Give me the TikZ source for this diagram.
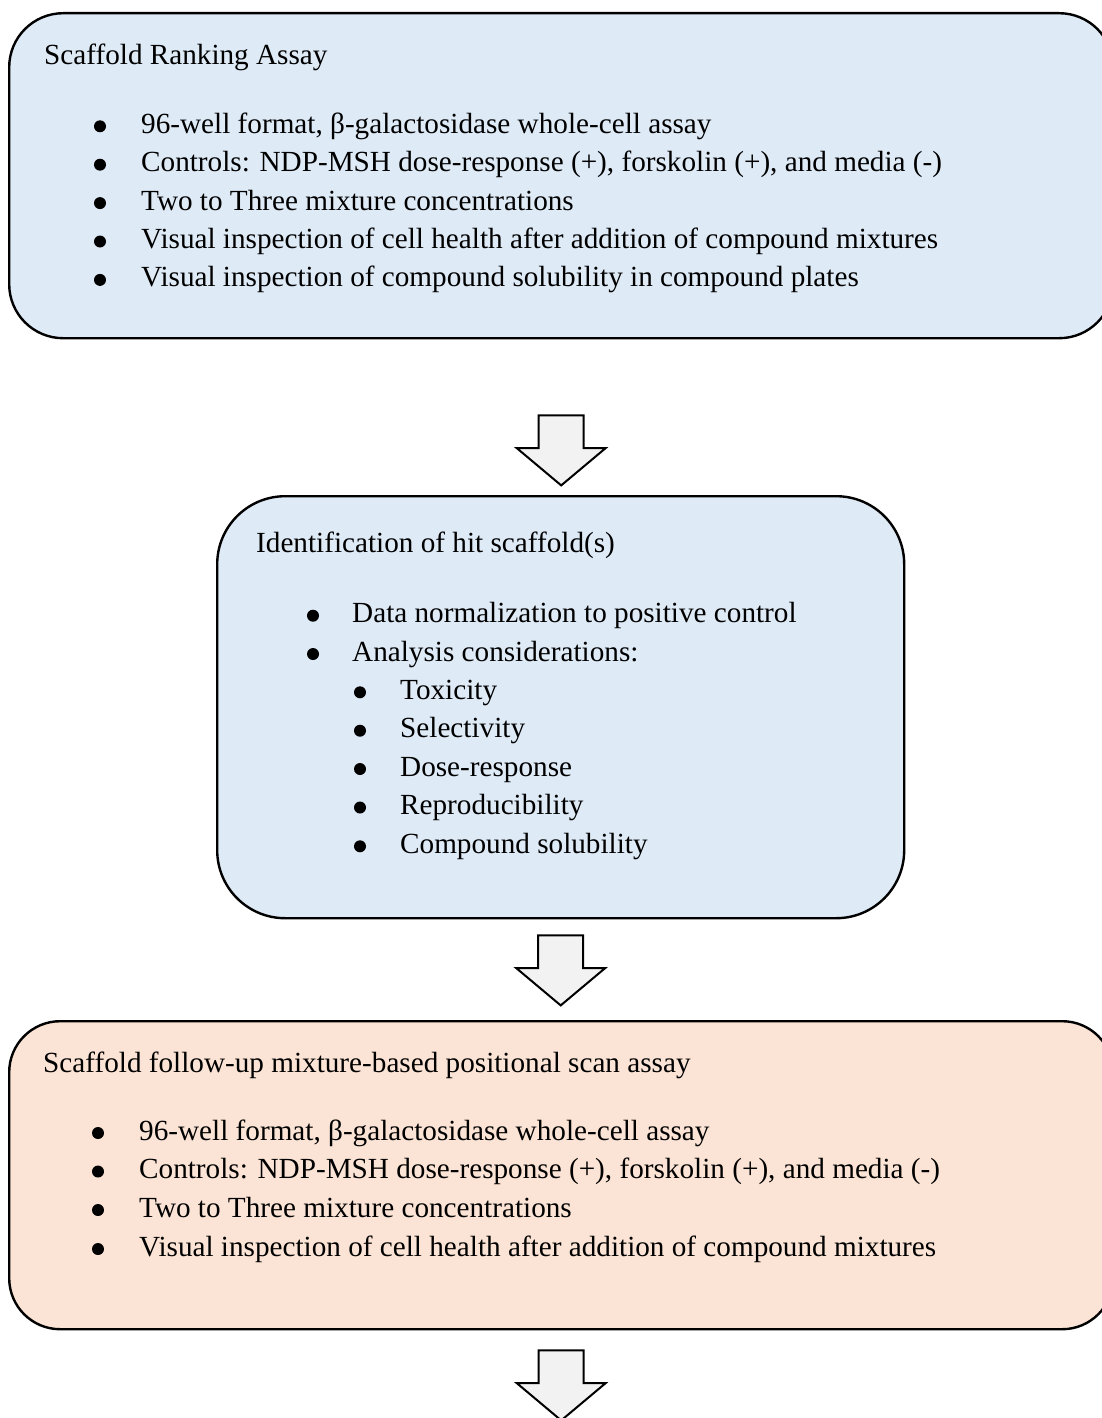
\documentclass[tikz,border=0pt]{standalone}
\usepackage{fontspec}
\setmainfont{Liberation Serif}
\usepackage{tikz}
\newcommand{\lRankTitle}{Scaffold Ranking Assay}
\newcommand{\lHitTitle}{Identification of hit scaffold(s)}
\newcommand{\lScanTitle}{Scaffold follow-up mixture-based positional scan assay}
\newcommand{\lFormat}{96-well format, β-galactosidase whole-cell assay}
\newcommand{\lControls}{Controls: NDP-MSH dose-response (+), forskolin (+), and media (-)}
\newcommand{\lConc}{Two to Three mixture concentrations}
\newcommand{\lHealth}{Visual inspection of cell health after addition of compound mixtures}
\newcommand{\lSolub}{Visual inspection of compound solubility in compound plates}
\usetikzlibrary{shapes.arrows, calc, positioning}
\definecolor{boxBlue}{RGB}{222, 234, 246}
\definecolor{boxOrange}{RGB}{251, 228, 213}
\definecolor{arrowGrey}{RGB}{242, 242, 242}

\begin{document}
\begin{tikzpicture} [
        x=1pt, y=-1pt,
        font=\fontsize{29.2}{38.5}\selectfont,
        box/.style={draw, line width=2.4pt, anchor=north west, inner sep=0},
        block arrow/.style={draw, line width=2pt, fill=arrowGrey, single arrow, rotate=-90, anchor=tail,
            outer sep=0, minimum height=70pt, minimum width=87pt, inner xsep=0, inner ysep=21.5pt,
            single arrow head extend=22pt, single arrow tip angle=100},
        title/.style={anchor=base west, inner sep=0},
        item/.style={anchor=base west, inner sep=0},
        bullet/.style={circle, fill, inner sep=0, minimum size=12pt}
    ]

    \clip (0,0) rectangle (1102,1418);

    % boxes
    \path (8,12) node[box, fill=boxBlue, rounded corners=54pt, minimum width=1104pt, minimum height=325pt] (rank box) {};
    \path (216,495) node[box, fill=boxBlue, rounded corners=68pt, minimum width=687pt, minimum height=422pt] (hit box) {};
    \path (8,1020) node[box, fill=boxOrange, rounded corners=51pt, minimum width=1104pt, minimum height=308pt] (scan box) {};

    % arrows
    \path ($ (rank box.south)+(0,76) $) node[block arrow] (rank to hit) {};
    \path ($ (hit box.south)+(0,16) $) node[block arrow] (hit to scan) {};
    \path ($ (scan box.south)+(0,20) $) node[block arrow] (scan next) {};

    % ranking assay
    \path (44,65) node[title] (rank title) {\lRankTitle};
    \path (100,126.3) node[bullet] (rank b1) {};
    \path (141,133.3) node[item] (rank i1) {\lFormat};
    \path (100,164.7) node[bullet] (rank b2) {};
    \path (141,171.7) node[item] (rank i2) {\lControls};
    \path (100,203.1) node[bullet] (rank b3) {};
    \path (141,210.1) node[item] (rank i3) {\lConc};
    \path (100,241.5) node[bullet] (rank b4) {};
    \path (141,248.5) node[item] (rank i4) {\lHealth};
    \path (100,279.9) node[bullet] (rank b5) {};
    \path (141,286.9) node[item] (rank i5) {\lSolub};

    % hit identification
    \path (256,552) node[title] (hit title) {\lHitTitle};
    \path (313,615.7) node[bullet] (hit b1) {};
    \path (352,622.7) node[item] (hit i1) {Data normalization to positive control};
    \path (313,654) node[bullet] (hit b2) {};
    \path (352,661) node[item] (hit i2) {Analysis considerations:};
    \path (360,692.3) node[bullet] (hit s1) {};
    \path (400,699.3) node[item] (hit t1) {Toxicity};
    \path (360,730.7) node[bullet] (hit s2) {};
    \path (400,737.7) node[item] (hit t2) {Selectivity};
    \path (360,769) node[bullet] (hit s3) {};
    \path (400,776) node[item] (hit t3) {Dose-response};
    \path (360,807.5) node[bullet] (hit s4) {};
    \path (400,814.5) node[item] (hit t4) {Reproducibility};
    \path (360,846.3) node[bullet] (hit s5) {};
    \path (400,853.3) node[item] (hit t5) {Compound solubility};

    % positional scan
    \path (43,1072) node[title] (scan title) {\lScanTitle};
    \path (98,1133) node[bullet] (scan b1) {};
    \path (139,1140) node[item] (scan i1) {\lFormat};
    \path (98,1171.5) node[bullet] (scan b2) {};
    \path (139,1178.5) node[item] (scan i2) {\lControls};
    \path (98,1210) node[bullet] (scan b3) {};
    \path (139,1217) node[item] (scan i3) {\lConc};
    \path (98,1249) node[bullet] (scan b4) {};
    \path (139,1256) node[item] (scan i4) {\lHealth};

\end{tikzpicture}
\end{document}
